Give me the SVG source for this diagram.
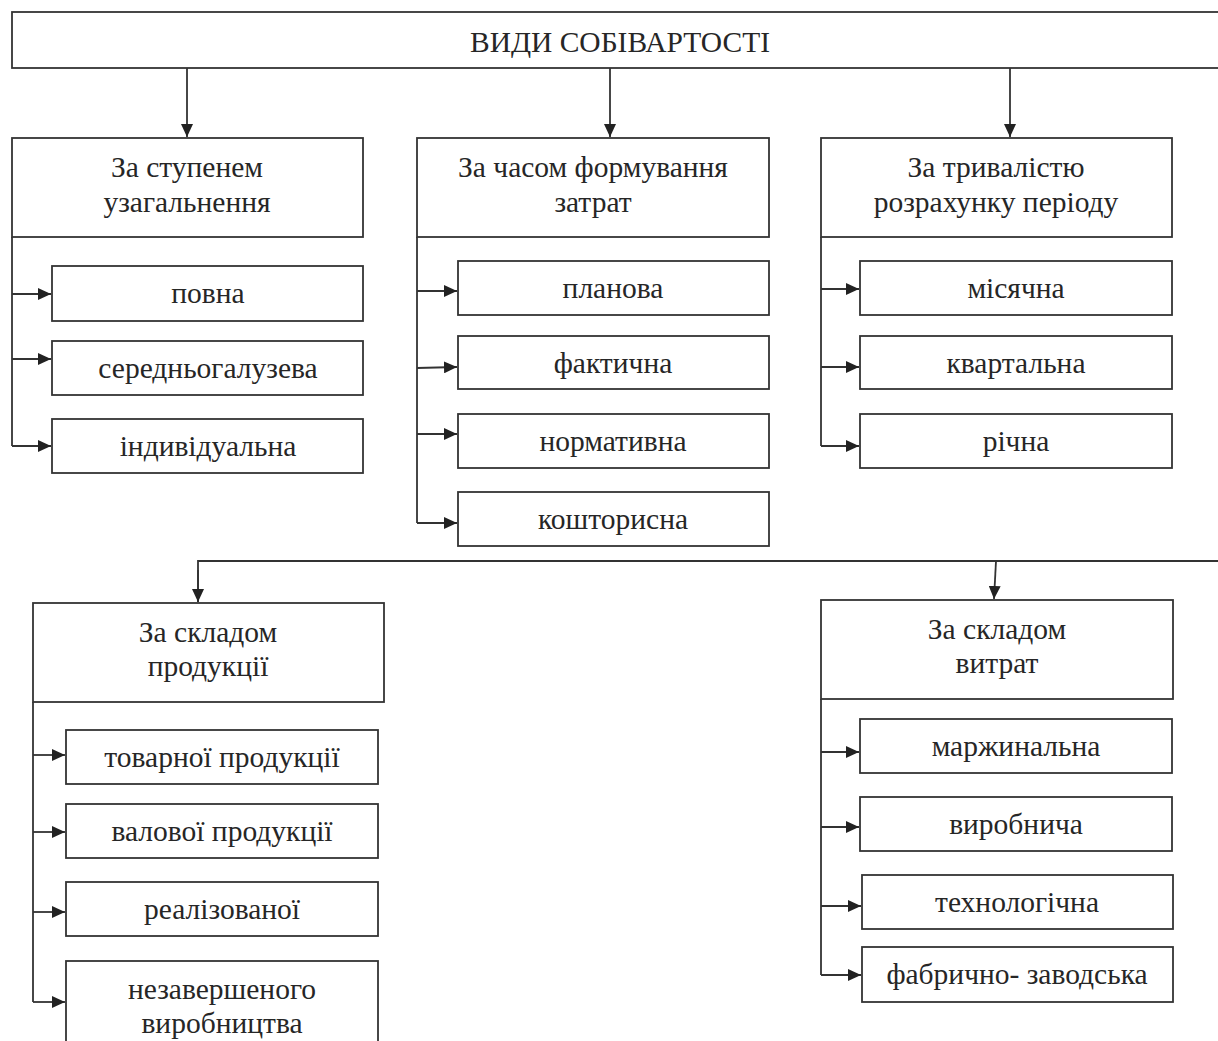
<svg xmlns="http://www.w3.org/2000/svg" width="1218" height="1041" viewBox="0 0 1218 1041">
<style>
.box{fill:#fff;stroke:#333;stroke-width:1.8}
.t{font-family:"Liberation Serif","Times New Roman",serif;font-size:29.5px;fill:#262626;text-anchor:middle}
.c{fill:none;stroke:#333;stroke-width:1.8}
</style>
<defs>
<marker id="ah" markerUnits="userSpaceOnUse" markerWidth="14" markerHeight="12" refX="13" refY="6" orient="auto">
<path d="M0,0 L13,6 L0,12 Z" fill="#222"/>
</marker>
</defs>
<rect width="1218" height="1041" fill="#fff"/>
<g id="connectors">
<path class="c" d="M187,68 V137" marker-end="url(#ah)"/>
<path class="c" d="M610,68 V137" marker-end="url(#ah)"/>
<path class="c" d="M1010,68 V137" marker-end="url(#ah)"/>
<path class="c" d="M12,237 V446"/>
<path class="c" d="M12,294 H51" marker-end="url(#ah)"/>
<path class="c" d="M12,359 H51" marker-end="url(#ah)"/>
<path class="c" d="M12,446 H51" marker-end="url(#ah)"/>
<path class="c" d="M417,237 V523"/>
<path class="c" d="M417,291 H457" marker-end="url(#ah)"/>
<path class="c" d="M417,368 L457,367" marker-end="url(#ah)"/>
<path class="c" d="M417,434 H457" marker-end="url(#ah)"/>
<path class="c" d="M417,523 H457" marker-end="url(#ah)"/>
<path class="c" d="M821,237 V446"/>
<path class="c" d="M821,289 H859" marker-end="url(#ah)"/>
<path class="c" d="M821,367 H859" marker-end="url(#ah)"/>
<path class="c" d="M821,446 H859" marker-end="url(#ah)"/>
<path class="c" d="M198,602 V561 H1220"/>
<path class="c" d="M198,570 V602" marker-end="url(#ah)"/>
<path class="c" d="M996,561 L994,599" marker-end="url(#ah)"/>
<path class="c" d="M33,702 V1002"/>
<path class="c" d="M33,755 H65" marker-end="url(#ah)"/>
<path class="c" d="M33,832 H65" marker-end="url(#ah)"/>
<path class="c" d="M33,912 H65" marker-end="url(#ah)"/>
<path class="c" d="M33,1002 H65" marker-end="url(#ah)"/>
<path class="c" d="M821,699 V975"/>
<path class="c" d="M821,752 H859" marker-end="url(#ah)"/>
<path class="c" d="M821,827 H859" marker-end="url(#ah)"/>
<path class="c" d="M821,906 H861" marker-end="url(#ah)"/>
<path class="c" d="M821,975 H861" marker-end="url(#ah)"/>
</g>
<g id="root"><rect class="box" x="12" y="12" width="1220" height="56"/><text class="t" x="620" y="52" font-size="29" textLength="300" lengthAdjust="spacingAndGlyphs">ВИДИ СОБІВАРТОСТІ</text></g>
<g id="g1"><rect class="box" x="12" y="138" width="351" height="99"/><text class="t" x="187" y="177">За ступенем</text><text class="t" x="187" y="212">узагальнення</text></g>
<g id="g1a"><rect class="box" x="52" y="266" width="311" height="55"/><text class="t" x="208" y="303">повна</text></g>
<g id="g1b"><rect class="box" x="52" y="341" width="311" height="54"/><text class="t" x="208" y="378">середньогалузева</text></g>
<g id="g1c"><rect class="box" x="52" y="419" width="311" height="54"/><text class="t" x="208" y="456">індивідуальна</text></g>
<g id="g2"><rect class="box" x="417" y="138" width="352" height="99"/><text class="t" x="593" y="177">За часом формування</text><text class="t" x="593" y="212">затрат</text></g>
<g id="g2a"><rect class="box" x="458" y="261" width="311" height="54"/><text class="t" x="613" y="298">планова</text></g>
<g id="g2b"><rect class="box" x="458" y="336" width="311" height="53"/><text class="t" x="613" y="373">фактична</text></g>
<g id="g2c"><rect class="box" x="458" y="414" width="311" height="54"/><text class="t" x="613" y="451">нормативна</text></g>
<g id="g2d"><rect class="box" x="458" y="492" width="311" height="54"/><text class="t" x="613" y="529">кошторисна</text></g>
<g id="g3"><rect class="box" x="821" y="138" width="351" height="99"/><text class="t" x="996" y="177">За тривалістю</text><text class="t" x="996" y="212">розрахунку періоду</text></g>
<g id="g3a"><rect class="box" x="860" y="261" width="312" height="54"/><text class="t" x="1016" y="298">місячна</text></g>
<g id="g3b"><rect class="box" x="860" y="336" width="312" height="53"/><text class="t" x="1016" y="373">квартальна</text></g>
<g id="g3c"><rect class="box" x="860" y="414" width="312" height="54"/><text class="t" x="1016" y="451">річна</text></g>
<g id="g4"><rect class="box" x="33" y="603" width="351" height="99"/><text class="t" x="208" y="642">За складом</text><text class="t" x="208" y="676">продукції</text></g>
<g id="g4a"><rect class="box" x="66" y="730" width="312" height="54"/><text class="t" x="222" y="767">товарної продукції</text></g>
<g id="g4b"><rect class="box" x="66" y="804" width="312" height="54"/><text class="t" x="222" y="841">валової продукції</text></g>
<g id="g4c"><rect class="box" x="66" y="882" width="312" height="54"/><text class="t" x="222" y="919">реалізованої</text></g>
<g id="g4d"><rect class="box" x="66" y="961" width="312" height="100"/><text class="t" x="222" y="999">незавершеного</text><text class="t" x="222" y="1033">виробництва</text></g>
<g id="g5"><rect class="box" x="821" y="600" width="352" height="99"/><text class="t" x="997" y="639">За складом</text><text class="t" x="997" y="673">витрат</text></g>
<g id="g5a"><rect class="box" x="860" y="719" width="312" height="54"/><text class="t" x="1016" y="756">маржинальна</text></g>
<g id="g5b"><rect class="box" x="860" y="797" width="312" height="54"/><text class="t" x="1016" y="834">виробнича</text></g>
<g id="g5c"><rect class="box" x="862" y="875" width="311" height="54"/><text class="t" x="1017" y="912">технологічна</text></g>
<g id="g5d"><rect class="box" x="862" y="947" width="311" height="55"/><text class="t" x="1017" y="984">фабрично- заводська</text></g>
</svg>
